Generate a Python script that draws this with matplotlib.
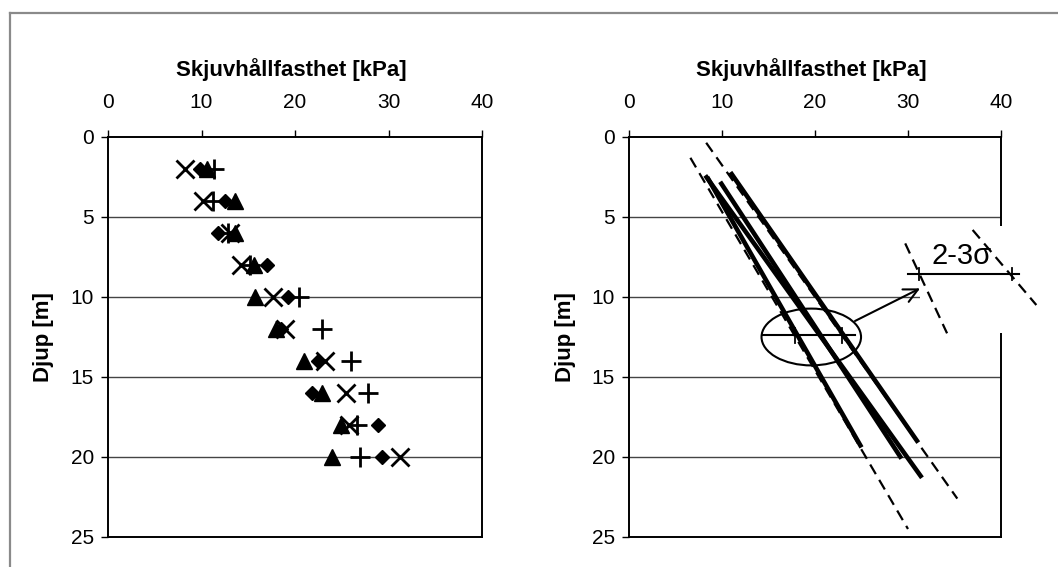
import matplotlib
matplotlib.use("Agg")
import matplotlib.pyplot as plt
from matplotlib.lines import Line2D
from matplotlib.patches import Ellipse, Rectangle

plt.rcParams['font.family'] = ['Liberation Sans', 'DejaVu Sans']

# ---------------- data ----------------
depth = [2, 4, 6, 8, 10, 12, 14, 16, 18, 20]
s_diamond = [9.8, 12.5, 11.8, 17.0, 19.3, 18.5, 22.5, 21.8, 28.9, 29.3]
s_triangle = [10.6, 13.6, 13.6, 15.6, 15.7, 18.0, 21.0, 22.9, 24.9, 24.0]
s_cross = [8.2, 10.2, 13.0, 14.2, 17.7, 18.9, 23.2, 25.5, 25.8, 31.2]
s_plus = [11.3, 11.2, 12.8, 15.2, 20.4, 22.9, 26.0, 27.8, 26.6, 26.9]

# regression lines (right panel): start / end points
reg_x0 = [8.4, 9.8, 8.2, 10.9]
reg_y0 = [2.5, 2.8, 2.4, 2.2]
reg_x1 = [25.0, 29.3, 31.5, 31.1]
reg_y1 = [19.4, 20.1, 21.3, 19.1]

# confidence bounds (dashed)
bnd_x0 = [6.6, 8.3]
bnd_y0 = [1.3, 0.36]
bnd_x1 = [30.0, 35.3]
bnd_y1 = [24.5, 22.6]

# scatter illustration
sig_y = 12.4
sig_x = [14.4, 24.3]
sig_ticks = [17.85, 22.9]
ell_center = (19.6, 12.5)
ell_w, ell_h = 10.7, 3.55

# 2-3 sigma annotation
ann_y = 8.56
ann_x = [30.0, 41.9]
ann_ticks = [31.2, 41.2]
ann_d1x = [29.7, 34.2]
ann_d1y = [6.65, 12.27]
ann_d2x = [36.95, 43.8]
ann_d2y = [5.81, 10.5]
arrow_from = (24.3, 11.5)
arrow_to = (31.3, 9.46)

x_ticks = [0, 10, 20, 30, 40]
y_ticks = [0, 5, 10, 15, 20, 25]
xlabel = "Skjuvhållfasthet [kPa]"
ylabel = "Djup [m]"

# ---------------- figure ----------------
W, H = 1058, 567
fig = plt.figure(figsize=(W / 100, H / 100), dpi=100)
fig.patch.set_facecolor('white')

# outer frame (left and top edges visible)
fig.add_artist(Line2D([10 / W, 10 / W], [0, 1 - 12.7 / H], color='#8a8a8a', lw=1.6))
fig.add_artist(Line2D([10 / W, 1], [1 - 12.7 / H, 1 - 12.7 / H], color='#8a8a8a', lw=1.6))

ax1 = fig.add_axes([108 / W, 1 - 537 / H, 374 / W, 400 / H])
ax2 = fig.add_axes([629 / W, 1 - 537 / H, 372 / W, 400 / H])

for ax in (ax1, ax2):
    ax.set_xlim(0, 40)
    ax.set_ylim(25, 0)
    ax.set_xticks(x_ticks)
    ax.set_yticks(y_ticks)
    ax.xaxis.tick_top()
    ax.xaxis.set_label_position('top')
    ax.tick_params(axis='both', direction='out', length=5, width=1, labelsize=15,
                   color='black', pad=5)
    ax.tick_params(axis='x', pad=13)
    for sp in ax.spines.values():
        sp.set_linewidth(1.4)
        sp.set_color('black')
    for yv in y_ticks[1:-1]:
        ax.axhline(yv, color='#444444', lw=1.0, zorder=1)
    ax.set_xlabel(xlabel, fontsize=16, fontweight='bold')
    ax.xaxis.set_label_coords(0.49, 1 + 67 / 400)
    ax.xaxis.label.set_va('center')
    ax.set_ylabel(ylabel, fontsize=16, fontweight='bold')
    ax.yaxis.label.set_va('center')

ax1.yaxis.set_label_coords((44 - 108) / 374, 0.5)
ax2.yaxis.set_label_coords((565 - 629) / 372, 0.5)

# ---------------- left panel ----------------
ax1.plot(s_triangle, depth, linestyle='none', marker='^', ms=11, color='black', zorder=3)
ax1.plot(s_diamond, depth, linestyle='none', marker='D', ms=7, color='black', zorder=3)
ax1.plot(s_cross, depth, linestyle='none', marker='x', ms=13, mew=2.0, color='black', zorder=3)
ax1.plot(s_plus, depth, linestyle='none', marker='+', ms=14, mew=2.0, color='black', zorder=3)

# ---------------- right panel ----------------
for x0, y0, x1, y1 in zip(reg_x0, reg_y0, reg_x1, reg_y1):
    ax2.plot([x0, x1], [y0, y1], color='black', lw=3.3, solid_capstyle='butt', zorder=2)
for x0, y0, x1, y1 in zip(bnd_x0, bnd_y0, bnd_x1, bnd_y1):
    ax2.plot([x0, x1], [y0, y1], color='black', lw=1.6, linestyle=(0, (5, 3)), zorder=2)

ax2.add_patch(Ellipse(ell_center, ell_w, ell_h, fill=False, ec='black', lw=1.5, zorder=4))
ax2.plot(sig_x, [sig_y, sig_y], color='black', lw=1.5, zorder=4)
for tx in sig_ticks:
    ax2.plot([tx, tx], [sig_y - 0.45, sig_y + 0.45], color='black', lw=1.3, zorder=4)

# white box breaking the right frame
ax2.add_patch(Rectangle((31.3, 5.55), 10.5, 6.7, fc='white', ec='none', zorder=3, clip_on=False))

ax2.annotate('', xy=arrow_to, xytext=arrow_from,
             arrowprops=dict(arrowstyle='->', color='black', lw=1.5, mutation_scale=25,
                             shrinkA=0, shrinkB=0), zorder=5, annotation_clip=False)
ax2.plot(ann_x, [ann_y, ann_y], color='black', lw=1.5, zorder=5, clip_on=False)
for tx in ann_ticks:
    ax2.plot([tx, tx], [ann_y - 0.35, ann_y + 0.35], color='black', lw=1.3, zorder=5, clip_on=False)
ax2.plot(ann_d1x, ann_d1y, color='black', lw=1.6, linestyle=(0, (5, 3)), zorder=5, clip_on=False)
ax2.plot(ann_d2x, ann_d2y, color='black', lw=1.6, linestyle=(0, (5, 3)), zorder=5, clip_on=False)
ax2.text(35.8, 7.45, '2-3σ', fontsize=21, ha='center', va='center', zorder=6)

fig.savefig('out.png', dpi=100)
